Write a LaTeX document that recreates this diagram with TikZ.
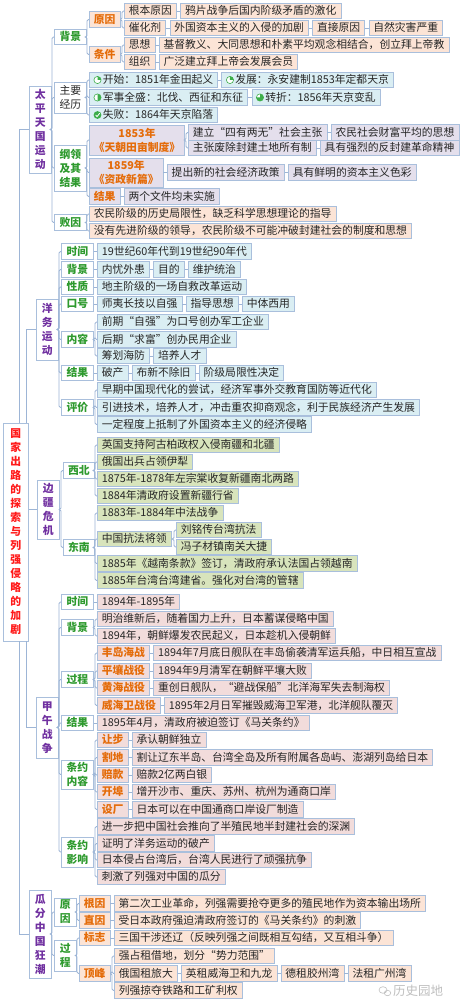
\documentclass[tikz,border=0pt]{standalone}
\usepackage{fontspec}
\setmainfont{Noto Sans CJK SC}
\usetikzlibrary{positioning}

\definecolor{bdr}{HTML}{A9BFDC}
\definecolor{lnk}{HTML}{9DB5D6}
\definecolor{peach}{HTML}{FCE4D6}
\definecolor{sky}{HTML}{DAEEF3}
\definecolor{lav}{HTML}{E4DFEC}
\definecolor{olive}{HTML}{D8E4BC}
\definecolor{rose}{HTML}{F2DCDB}
\definecolor{orng}{HTML}{E46C0A}
\definecolor{grn}{HTML}{2E9A2E}
\definecolor{purp}{HTML}{7030A0}
\definecolor{rootred}{HTML}{FF1A1A}
\definecolor{ink}{HTML}{262626}
\definecolor{icon}{HTML}{3DAE4A}

\newcommand\mmfont{\fontsize{10.8}{14}\selectfont}
\newcommand\progicon[2]{%
  \draw[icon, line width=0.6pt, fill=white] ([xshift=8.5pt]#1.west) circle (3.6pt);
  \fill[icon] ([xshift=8.5pt]#1.west) -- ++(90:3.6pt) arc[start angle=90, end angle={90-#2}, radius=3.6pt] -- cycle;}

\tikzset{
  box/.style={rectangle, draw=bdr, line width=0.6pt, inner xsep=4.5pt, inner ysep=0pt,
    minimum height=15.5pt, text height=9.2pt, text depth=1.4pt, font=\mmfont, text=ink, anchor=west},
  peachbox/.style={box, fill=peach},
  skybox/.style={box, fill=sky},
  lavbox/.style={box, fill=lav},
  olivebox/.style={box, fill=olive},
  rosebox/.style={box, fill=rose},
  lbl/.style={box, text=orng, font=\mmfont\bfseries},
  cat/.style={box, fill=white, text=grn, font=\mmfont\bfseries, minimum width=32pt},
  multi/.style={align=center, text height={}, text depth={}, inner ysep=1.5pt},
  topic/.style={box, multi, fill=white, text=purp, font=\mmfont\bfseries, minimum width=22pt, inner xsep=1pt},
  link/.style={draw=lnk, line width=0.8pt},
  br/.style={rounded corners=1.5pt, to path={-| ([xshift=-2pt]\tikztotarget) -- (\tikztotarget)}},
}

\begin{document}
\begin{tikzpicture}[x=1pt,y=-1pt]
\fill[white] (0,0) rectangle (461,1000);
\useasboundingbox (0,0) rectangle (461,1000);

\node[topic, text=rootred, minimum width=25pt, minimum height=218pt] (root) at (3,532)
  {国\\家\\出\\路\\的\\探\\索\\与\\列\\强\\侵\\略\\的\\加\\剧};

\node[topic, minimum height=87pt] (ttp) at (29,129.5) {太\\平\\天\\国\\运\\动};
\node[cat] (tbj) at (54,37) {背景};
\node[lbl, fill=peach] (tyy) at (89,19.5) {原因};
\node[lbl, fill=peach] (ttj) at (89,54.5) {条件};
\node[peachbox] (tgb) at (124,11) {根本原因};
\node[peachbox, right=3.5pt of tgb] (tgb2) {鸦片战争后国内阶级矛盾的激化};
\node[peachbox] (tch) at (124,28) {催化剂};
\node[peachbox, right=3.5pt of tch] (tch2) {外国资本主义的入侵的加剧};
\node[peachbox, right=3.5pt of tch2] (tzj) {直接原因};
\node[peachbox, right=3.5pt of tzj] (tzj2) {自然灾害严重};
\node[peachbox] (tsx) at (124,45) {思想};
\node[peachbox, right=3.5pt of tsx] (tsx2) {基督教义、大同思想和朴素平均观念相结合，创立拜上帝教};
\node[peachbox] (tzz) at (124,62) {组织};
\node[peachbox, right=3.5pt of tzz] (tzz2) {广泛建立拜上帝会发展会员};
\node[cat, multi, text=ink, font=\mmfont, minimum height=31pt] (tjl) at (54,97.5) {主要\\经历};
\node[skybox] (tks) at (89,80) {\hspace*{9pt}开始：1851年金田起义};
\node[skybox, right=3.5pt of tks] (tfz) {\hspace*{9pt}发展：永安建制1853年定都天京};
\node[skybox] (tjs) at (89,97.5) {\hspace*{9pt}军事全盛：北伐、西征和东征};
\node[skybox, right=3.5pt of tjs] (tzx) {\hspace*{9pt}转折：1856年天京变乱};
\node[skybox] (tsb) at (89,115) {\hspace*{9pt}失败：1864年天京陷落};
\node[cat, multi, minimum height=46pt] (tgl) at (54,168) {纲领\\及其\\结果};
\node[lbl, multi, fill=lav, minimum height=30pt] (t53) at (89,140) {1853年\\《天朝田亩制度》};
\node[lavbox] (tjz1) at (188,132.5) {建立“四有两无”社会主张};
\node[lavbox, right=3.5pt of tjz1] (tjz2) {农民社会财富平均的思想};
\node[lavbox] (tfc1) at (188,148) {主张废除封建土地所有制};
\node[lavbox, right=3.5pt of tfc1] (tfc2) {具有强烈的反封建革命精神};
\node[lbl, multi, fill=lav, minimum height=29pt] (t59) at (89,172.5) {1859年\\《资政新篇》};
\node[lavbox, right=3.5pt of t59] (ttc1) {提出新的社会经济政策};
\node[lavbox, right=3.5pt of ttc1] (ttc2) {具有鲜明的资本主义色彩};
\node[lbl, fill=lav] (tjg) at (89,196.5) {结果};
\node[lavbox, right=3.5pt of tjg] (tjg1) {两个文件均未实施};
\node[cat] (tby) at (54,222.5) {败因};
\node[peachbox] (tby1) at (89,214) {农民阶级的历史局限性，缺乏科学思想理论的指导};
\node[peachbox] (tby2) at (89,231) {没有先进阶级的领导，农民阶级不可能冲破封建社会的制度和思想};

\node[topic, minimum height=61pt] (yyw) at (36,329.5) {洋\\务\\运\\动};
\node[cat] (ysj) at (61,251.5) {时间};
\node[skybox] (ysj1) at (97,251.5) {19世纪60年代到19世纪90年代};
\node[cat] (ybj) at (61,269.5) {背景};
\node[skybox] (ybj1) at (97,269.5) {内忧外患};
\node[skybox, right=3.5pt of ybj1] (ymd) {目的};
\node[skybox, right=3.5pt of ymd] (ymd1) {维护统治};
\node[cat] (yxz) at (61,287) {性质};
\node[skybox] (yxz1) at (97,287) {地主阶级的一场自救改革运动};
\node[cat] (ykh) at (61,304) {口号};
\node[skybox] (ykh1) at (97,304) {师夷长技以自强};
\node[skybox, right=3.5pt of ykh1] (yzd) {指导思想};
\node[skybox, right=3.5pt of yzd] (yzd1) {中体西用};
\node[cat] (ynr) at (61,339.5) {内容};
\node[skybox] (ynr1) at (97,322) {前期“自强”为口号创办军工企业};
\node[skybox] (ynr2) at (97,339.5) {后期“求富”创办民用企业};
\node[skybox] (ynr3) at (97,356) {筹划海防};
\node[skybox, right=3.5pt of ynr3] (ynr4) {培养人才};
\node[cat] (yjg) at (61,373) {结果};
\node[skybox] (yjg1) at (97,373) {破产};
\node[skybox, right=3.5pt of yjg1] (yjg2) {布新不除旧};
\node[skybox, right=3.5pt of yjg2] (yjg3) {阶级局限性决定};
\node[cat] (ypj) at (61,407.5) {评价};
\node[skybox] (ypj1) at (97,390) {早期中国现代化的尝试，经济军事外交教育国防等近代化};
\node[skybox] (ypj2) at (97,407.5) {引进技术，培养人才，冲击重农抑商观念，利于民族经济产生发展};
\node[skybox] (ypj3) at (97,424.5) {一定程度上抵制了外国资本主义的经济侵略};

\node[topic, minimum height=59pt] (bbj) at (37,509.5) {边\\疆\\危\\机};
\node[cat, minimum width=31pt] (bxb) at (63,470.5) {西北};
\node[olivebox] (bxb1) at (97,445) {英国支持阿古柏政权入侵南疆和北疆};
\node[olivebox] (bxb2) at (97,462) {俄国出兵占领伊犁};
\node[olivebox] (bxb3) at (97,479) {1875年-1878年左宗棠收复新疆南北两路};
\node[olivebox] (bxb4) at (97,496) {1884年清政府设置新疆行省};
\node[cat, minimum width=31pt] (bdn) at (63,547.5) {东南};
\node[olivebox] (bdn1) at (97,513) {1883年-1884年中法战争};
\node[olivebox] (bdn2) at (97,539) {中国抗法将领};
\node[olivebox] (bdn3) at (176,530) {刘铭传台湾抗法};
\node[olivebox] (bdn4) at (176,547) {冯子材镇南关大捷};
\node[olivebox] (bdn5) at (97,563.5) {1885年《越南条款》签订，清政府承认法国占领越南};
\node[olivebox] (bdn6) at (97,580.5) {1885年台湾台湾建省。强化对台湾的管辖};

\node[topic, minimum height=61pt] (jjw) at (36,727.5) {甲\\午\\战\\争};
\node[cat] (jsj) at (61,602) {时间};
\node[rosebox] (jsj1) at (97,602) {1894年-1895年};
\node[cat] (jbj) at (61,627.5) {背景};
\node[rosebox] (jbj1) at (97,619) {明治维新后，随着国力上升，日本蓄谋侵略中国};
\node[rosebox] (jbj2) at (97,636) {1894年，朝鲜爆发农民起义，日本趁机入侵朝鲜};
\node[cat] (jgc) at (61,679.5) {过程};
\node[lbl, fill=rose] (jfd) at (97,653) {丰岛海战};
\node[rosebox, right=3.5pt of jfd] (jfd1) {1894年7月底日舰队在丰岛偷袭清军运兵船，中日相互宣战};
\node[lbl, fill=rose] (jpr) at (97,671) {平壤战役};
\node[rosebox, right=3.5pt of jpr] (jpr1) {1894年9月清军在朝鲜平壤大败};
\node[lbl, fill=rose] (jhh) at (97,688) {黄海战役};
\node[rosebox, right=3.5pt of jhh] (jhh1) {重创日舰队，“避战保船”北洋海军失去制海权};
\node[lbl, fill=rose] (jwh) at (97,705.5) {威海卫战役};
\node[rosebox, right=3.5pt of jwh] (jwh1) {1895年2月日军摧毁威海卫军港，北洋舰队覆灭};
\node[cat] (jjg) at (61,723) {结果};
\node[rosebox] (jjg1) at (97,723) {1895年4月，清政府被迫签订《马关条约》};
\node[cat, multi, minimum height=29pt] (jnr) at (61,774.5) {条约\\内容};
\node[lbl, fill=rose] (jrb) at (97,740) {让步};
\node[rosebox, right=3.5pt of jrb] (jrb1) {承认朝鲜独立};
\node[lbl, fill=rose] (jgd) at (97,757.5) {割地};
\node[rosebox, right=3.5pt of jgd] (jgd1) {割让辽东半岛、台湾全岛及所有附属各岛屿、澎湖列岛给日本};
\node[lbl, fill=rose] (jpk) at (97,775) {赔款};
\node[rosebox, right=3.5pt of jpk] (jpk1) {赔款2亿两白银};
\node[lbl, fill=rose] (jkb) at (97,792) {开埠};
\node[rosebox, right=3.5pt of jkb] (jkb1) {增开沙市、重庆、苏州、杭州为通商口岸};
\node[lbl, fill=rose] (jsc) at (97,809.5) {设厂};
\node[rosebox, right=3.5pt of jsc] (jsc1) {日本可以在中国通商口岸设厂制造};
\node[cat, multi, minimum height=30pt] (jyx) at (61,852) {条约\\影响};
\node[rosebox] (jyx1) at (97,826.5) {进一步把中国社会推向了半殖民地半封建社会的深渊};
\node[rosebox] (jyx2) at (97,843.5) {证明了洋务运动的破产};
\node[rosebox] (jyx3) at (97,860) {日本侵占台湾后，台湾人民进行了顽强抗争};
\node[rosebox] (jyx4) at (97,877) {刺激了列强对中国的瓜分};

\node[topic, minimum height=88pt] (ggf) at (29,934) {瓜\\分\\中\\国\\狂\\潮};
\node[cat, multi, minimum width=22pt, inner xsep=1pt, minimum height=28pt] (gyy) at (54,912) {原\\因};
\node[lbl, fill=peach] (ggy) at (79,903.5) {根因};
\node[peachbox, right=3.5pt of ggy] (ggy1) {第二次工业革命，列强需要抢夺更多的殖民地作为资本输出场所};
\node[lbl, fill=peach] (gzy) at (79,920.5) {直因};
\node[peachbox, right=3.5pt of gzy] (gzy1) {受日本政府强迫清政府签订的《马关条约》的刺激};
\node[cat, multi, minimum width=22pt, inner xsep=1pt, minimum height=31pt] (ggc) at (54,955.5) {过\\程};
\node[lbl, fill=peach] (gbz) at (79,938) {标志};
\node[peachbox, right=3.5pt of gbz] (gbz1) {三国干涉还辽（反映列强之间既相互勾结，又互相斗争）};
\node[lbl, fill=peach] (gdf) at (79,973.5) {顶峰};
\node[peachbox] (gdf1) at (114,956) {强占租借地，划分“势力范围”};
\node[peachbox] (gdf2) at (114,973.5) {俄国租旅大};
\node[peachbox, right=3.5pt of gdf2] (gdf3) {英租威海卫和九龙};
\node[peachbox, right=3.5pt of gdf3] (gdf4) {德租胶州湾};
\node[peachbox, right=3.5pt of gdf4] (gdf5) {法租广州湾};
\node[peachbox] (gdf6) at (114,990.5) {列强掠夺铁路和工矿利权};

\progicon{tks}{90}
\progicon{tfz}{90}
\progicon{tjs}{180}
\progicon{tzx}{270}
\fill[icon] ([xshift=8.5pt]tsb.west) circle (3.9pt);
\draw[white, line width=0.8pt] ([xshift=6.6pt]tsb.west) -- ++(1.5pt,-1.6pt) -- ++(2.6pt,3.4pt);

\draw[link]
  (ttp.west) -| ([xshift=3.5pt]root.north)
  (yyw.west) -| ([xshift=10.5pt]root.north)
  (bbj.west) -- (bbj.west -| root.east)
  (jjw.west) -| ([xshift=10.5pt]root.south)
  (ggf.west) -| ([xshift=3.5pt]root.south);

\draw[link]
  (ttp.east) edge[br] (tbj.west) edge[br] (tjl.west) edge[br] (tgl.west) edge[br] (tby.west)
  (tbj.east) edge[br] (tyy.west) edge[br] (ttj.west)
  (tyy.east) edge[br] (tgb.west) edge[br] (tch.west)
  (ttj.east) edge[br] (tsx.west) edge[br] (tzz.west)
  (tgb.east) edge (tgb2.west)
  (tch.east) edge (tch2.west) (tch2.east) edge (tzj.west) (tzj.east) edge (tzj2.west)
  (tsx.east) edge (tsx2.west)
  (tzz.east) edge (tzz2.west)
  (tjl.east) edge[br] (tks.west) edge[br] (tjs.west) edge[br] (tsb.west)
  (tks.east) edge (tfz.west)
  (tjs.east) edge (tzx.west)
  (tgl.east) edge[br] (t53.west) edge[br] (t59.west) edge[br] (tjg.west)
  (t53.east) edge[br] (tjz1.west) edge[br] (tfc1.west)
  (tjz1.east) edge (tjz2.west)
  (tfc1.east) edge (tfc2.west)
  (t59.east) edge (ttc1.west) (ttc1.east) edge (ttc2.west)
  (tjg.east) edge (tjg1.west)
  (tby.east) edge[br] (tby1.west) edge[br] (tby2.west);

\draw[link]
  (yyw.east) edge[br] (ysj.west) edge[br] (ybj.west) edge[br] (yxz.west) edge[br] (ykh.west)
    edge[br] (ynr.west) edge[br] (yjg.west) edge[br] (ypj.west)
  (ysj.east) edge (ysj1.west)
  (ybj.east) edge (ybj1.west) (ybj1.east) edge (ymd.west) (ymd.east) edge (ymd1.west)
  (yxz.east) edge (yxz1.west)
  (ykh.east) edge (ykh1.west) (ykh1.east) edge (yzd.west) (yzd.east) edge (yzd1.west)
  (ynr.east) edge[br] (ynr1.west) edge[br] (ynr2.west) edge[br] (ynr3.west)
  (ynr3.east) edge (ynr4.west)
  (yjg.east) edge (yjg1.west) (yjg1.east) edge (yjg2.west) (yjg2.east) edge (yjg3.west)
  (ypj.east) edge[br] (ypj1.west) edge[br] (ypj2.west) edge[br] (ypj3.west);

\draw[link]
  (bbj.east) edge[br] (bxb.west) edge[br] (bdn.west)
  (bxb.east) edge[br] (bxb1.west) edge[br] (bxb2.west) edge[br] (bxb3.west) edge[br] (bxb4.west)
  (bdn.east) edge[br] (bdn1.west) edge[br] (bdn2.west) edge[br] (bdn5.west) edge[br] (bdn6.west)
  (bdn2.east) edge[br] (bdn3.west) edge[br] (bdn4.west);

\draw[link]
  (jjw.east) edge[br] (jsj.west) edge[br] (jbj.west) edge[br] (jgc.west) edge[br] (jjg.west)
    edge[br] (jnr.west) edge[br] (jyx.west)
  (jsj.east) edge (jsj1.west)
  (jbj.east) edge[br] (jbj1.west) edge[br] (jbj2.west)
  (jgc.east) edge[br] (jfd.west) edge[br] (jpr.west) edge[br] (jhh.west) edge[br] (jwh.west)
  (jfd.east) edge (jfd1.west) (jpr.east) edge (jpr1.west)
  (jhh.east) edge (jhh1.west) (jwh.east) edge (jwh1.west)
  (jjg.east) edge (jjg1.west)
  (jnr.east) edge[br] (jrb.west) edge[br] (jgd.west) edge[br] (jpk.west) edge[br] (jkb.west) edge[br] (jsc.west)
  (jrb.east) edge (jrb1.west) (jgd.east) edge (jgd1.west) (jpk.east) edge (jpk1.west)
  (jkb.east) edge (jkb1.west) (jsc.east) edge (jsc1.west)
  (jyx.east) edge[br] (jyx1.west) edge[br] (jyx2.west) edge[br] (jyx3.west) edge[br] (jyx4.west);

\draw[link]
  (ggf.east) edge[br] (gyy.west) edge[br] (ggc.west)
  (gyy.east) edge[br] (ggy.west) edge[br] (gzy.west)
  (ggy.east) edge (ggy1.west) (gzy.east) edge (gzy1.west)
  (ggc.east) edge[br] (gbz.west) edge[br] (gdf.west)
  (gbz.east) edge (gbz1.west)
  (gdf.east) edge[br] (gdf1.west) edge[br] (gdf2.west) edge[br] (gdf6.west)
  (gdf2.east) edge (gdf3.west) (gdf3.east) edge (gdf4.west) (gdf4.east) edge (gdf5.west);

\node[anchor=west, text=gray!50, font=\fontsize{12.5}{12.5}\selectfont, inner sep=0pt] (wm) at (393,991) {历史园地};
\draw[gray!50, line width=0.6pt] ([xshift=-10pt,yshift=1pt]wm.west) ellipse (4pt and 3.3pt)
  ([xshift=-5.5pt,yshift=-2pt]wm.west) ellipse (3.2pt and 2.7pt);
\end{tikzpicture}
\end{document}
